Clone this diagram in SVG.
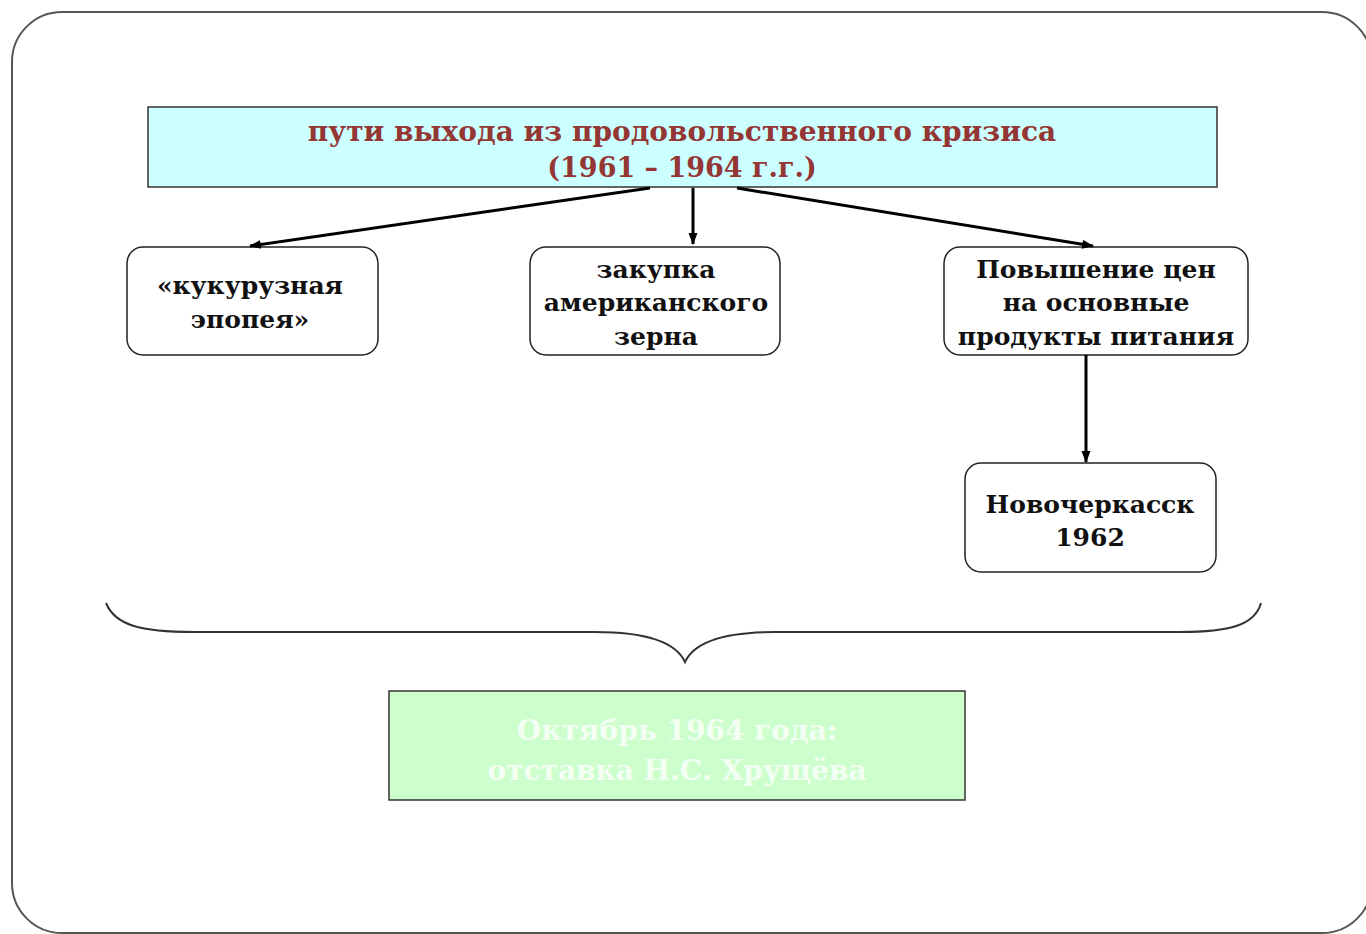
<svg xmlns="http://www.w3.org/2000/svg" width="1366" height="934" viewBox="0 0 1366 934">
<defs>
<marker id="ah" markerWidth="12" markerHeight="12" refX="11" refY="6" orient="auto" markerUnits="userSpaceOnUse">
<path d="M0,1.5 L12,6 L0,10.5 Z" fill="#000"/>
</marker>
<style>
.node{fill:#fff;stroke:#222;stroke-width:1.5}
.t{font-family:"DejaVu Serif","Liberation Serif",serif;font-weight:bold;text-anchor:middle}
.b{font-size:25px;fill:#111}
.conn line{stroke:#000;stroke-width:3;marker-end:url(#ah)}
</style>
</defs>
<rect width="1366" height="934" fill="#fff"/>
<rect x="12" y="12" width="1360" height="921" rx="50" ry="50" fill="#fff" stroke="#555" stroke-width="2"/>
<g id="title">
<rect x="148" y="107" width="1069" height="80" fill="#ccffff" stroke="#333" stroke-width="1.5"/>
<text class="t" x="682" y="141" font-size="28" fill="#943634">пути выхода из продовольственного кризиса</text>
<text class="t" x="682" y="177" font-size="27" fill="#943634">(1961 – 1964 г.г.)</text>
</g>
<g id="n1">
<rect class="node" x="127" y="247" width="251" height="108" rx="16"/>
<text class="t b" x="250" y="294">«кукурузная</text>
<text class="t b" x="250" y="328">эпопея»</text>
</g>
<g id="n2">
<rect class="node" x="530" y="247" width="250" height="108" rx="16"/>
<text class="t b" x="656" y="278">закупка</text>
<text class="t b" x="656" y="311">американского</text>
<text class="t b" x="656" y="345">зерна</text>
</g>
<g id="n3">
<rect class="node" x="944" y="247" width="304" height="108" rx="16"/>
<text class="t b" x="1096" y="278">Повышение цен</text>
<text class="t b" x="1096" y="311">на основные</text>
<text class="t b" x="1096" y="345">продукты питания</text>
</g>
<g id="n4">
<rect class="node" x="965" y="463" width="251" height="109" rx="16"/>
<text class="t b" x="1090" y="513">Новочеркасск</text>
<text class="t b" x="1090" y="546">1962</text>
</g>
<g id="brace">
<path d="M106,603 C115,625 140,632 194,632 L595,632 C640,632 675,640 685,662 C695,640 730,632 775,632 L1180,632 C1230,632 1255,625 1261,603" fill="none" stroke="#333" stroke-width="2"/>
</g>
<g id="result">
<rect x="389" y="691" width="576" height="109" fill="#ccffcc" stroke="#333" stroke-width="1.5"/>
<text class="t" x="677" y="740" font-size="28" fill="#f4fff4">Октябрь 1964 года:</text>
<text class="t" x="677" y="780" font-size="28" fill="#f4fff4">отставка Н.С. Хрущёва</text>
</g>
<g id="connectors" class="conn">
<line x1="650" y1="188" x2="250" y2="246"/>
<line x1="693" y1="188" x2="693" y2="244"/>
<line x1="737" y1="188" x2="1093" y2="246"/>
<line x1="1086" y1="355" x2="1086" y2="462"/>
</g>
</svg>
